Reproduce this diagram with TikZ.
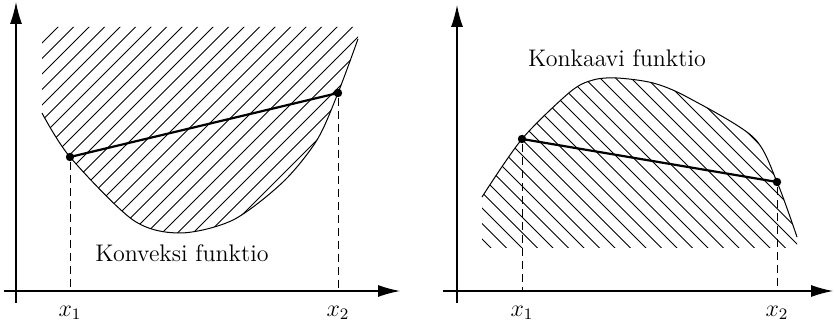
\documentclass[tikz,border=0pt]{standalone}
\usepackage{tikz}
\usetikzlibrary{arrows.meta,calc}

\tikzset{
  axis/.style={line width=0.6pt,-{Latex[length=11pt,width=6pt]}},
  hatch/.style={line width=0.45pt},
  curve/.style={line width=0.5pt},
  chord/.style={line width=1.1pt},
  drop/.style={line width=0.5pt,dash pattern=on 4pt off 2.5pt},
  dot/.style={circle,fill,inner sep=0pt,minimum size=4.2pt},
  lbl/.style={font=\large}
}

\begin{document}
\begin{tikzpicture}[x=0.5pt,y=-0.5pt]
  \useasboundingbox (0,0) rectangle (834,330);

  % left: convex
  \coordinate (o1) at (16,291);
  \draw[axis] (16,303) -- (16,2);
  \draw[axis] (4,291) -- (400,291);
  \begin{scope}
    \clip (42,27) -- plot[smooth] coordinates {(42,113) (70,157) (133,220) (180,233) (233,220) (283,182) (317,140) (338,93) (358,39)} -- (358,27) -- cycle;
    \foreach \c in {85,100.5,...,620}
      \draw[hatch] (\c,0) -- ++(-400,400);
  \end{scope}
  \draw[curve] plot[smooth] coordinates {(42,113) (70,157) (133,220) (180,233) (233,220) (283,182) (317,140) (338,93) (358,39)};
  \node[dot] (p1) at (70,157) {};
  \node[dot] (p2) at (338,93) {};
  \draw[chord] (p1.center) -- (p2.center);
  \draw[drop] (p1) -- (p1 |- o1);
  \draw[drop] (p2) -- (p2 |- o1);
  \node[lbl] (l1) at (70,313) {$x_1$};
  \node[lbl] (l2) at (338,313) {$x_2$};
  \node[lbl] (t1) at (182,253) {Konveksi funktio};

  % right: concave
  \coordinate (o2) at (457,291);
  \draw[axis] (457,303) -- (457,5);
  \draw[axis] (443,291) -- (833,291);
  \begin{scope}
    \clip plot[smooth] coordinates {(482,197) (522,139) (570,92) (593,80) (617,78) (653,83) (687,97) (753,137) (777,182) (797,237)} -- (797,248) -- (482,248) -- cycle;
    \foreach \c in {212,227.5,...,740}
      \draw[hatch] (\c,0) -- ++(400,400);
  \end{scope}
  \draw[curve] plot[smooth] coordinates {(482,197) (522,139) (570,92) (593,80) (617,78) (653,83) (687,97) (753,137) (777,182) (797,237)};
  \node[dot] (q1) at (522,139) {};
  \node[dot] (q2) at (777,182) {};
  \draw[chord] (q1.center) -- (q2.center);
  \draw[drop] (q1) -- (q1 |- o2);
  \draw[drop] (q2) -- (q2 |- o2);
  \node[lbl] (m1) at (522,313) {$x_1$};
  \node[lbl] (m2) at (777,313) {$x_2$};
  \node[lbl] (t2) at (617,58) {Konkaavi funktio};
\end{tikzpicture}
\end{document}
